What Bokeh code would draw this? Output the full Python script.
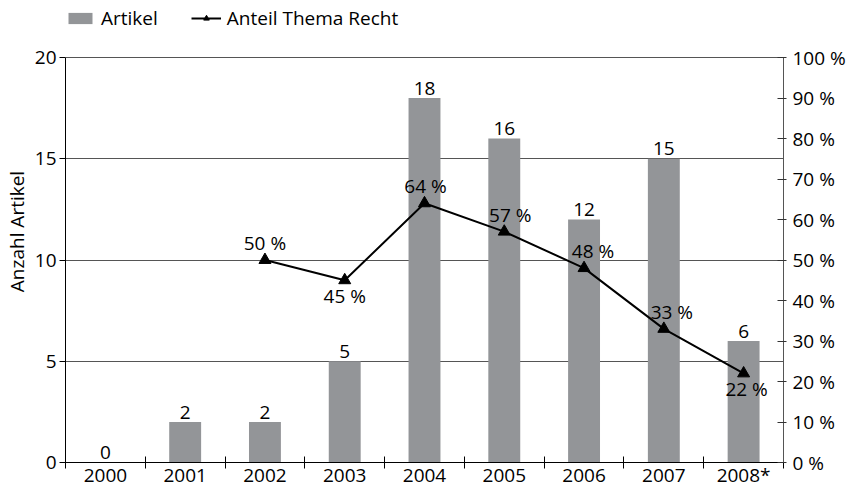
from bokeh.plotting import figure
from bokeh.models import (Range1d, LinearAxis, FixedTicker, PrintfTickFormatter,
                          Legend, LegendItem, ColumnDataSource)
from bokeh.core.properties import value
from bokeh.embed import file_html
from bokeh.resources import INLINE

# ---- data ----
years = ["2000", "2001", "2002", "2003", "2004", "2005", "2006", "2007", "2008*"]
articles = [0, 2, 2, 5, 18, 16, 12, 15, 6]
share_pct = [None, None, 50, 45, 64, 57, 48, 33, 22]
left_ticks = [0, 5, 10, 15, 20]
right_ticks = [0, 10, 20, 30, 40, 50, 60, 70, 80, 90, 100]

# label placement for the percentage labels (style only)
pct_side = [None, None, "above", "below", "above", "above", "above", "above", "below"]
pct_nudge = [0, 0, 0, 0, 1, 6, 9, 8, 3]

FONT = "Open Sans"
FS = "19px"

# layout: the frame reaches up to the top edge so that the legend can sit inside it
PLOT_H = 405          # pixel height of the 0..20 scale
TOP_PAD = 57          # room above the scale for the legend
FRAME_H = PLOT_H + TOP_PAD
left_max = left_ticks[-1]
right_max = right_ticks[-1]
left_top = left_max * FRAME_H / PLOT_H
right_top = right_max * FRAME_H / PLOT_H

n = len(years)
centers = [i + 0.5 for i in range(n)]
bounds = list(range(n + 1))

p = figure(frame_width=718, frame_height=FRAME_H,
           x_range=Range1d(0, n), y_range=Range1d(0, left_top),
           output_backend="svg", toolbar_location=None,
           min_border_left=65, min_border_right=69, min_border_top=0, min_border_bottom=0)
p.extra_y_ranges = {"pct": Range1d(0, right_top)}
p.outline_line_color = None
p.background_fill_color = "white"
p.border_fill_color = "white"

# bars
bar_src = ColumnDataSource(dict(x=centers, top=articles, lbl=[str(v) for v in articles]))
bars = p.vbar(x="x", top="top", width=0.4, source=bar_src, fill_color="#939598", line_color=None)
p.text(x="x", y="top", text="lbl", source=bar_src, text_align="center", text_baseline="middle",
       y_offset=-10, text_font=value(FONT), text_font_size=FS, text_color="black")

# line
sx, sy, st, yo, xo = [], [], [], [], []
for c, v, side, nd in zip(centers, share_pct, pct_side, pct_nudge):
    if v is None:
        continue
    sx.append(c); sy.append(v); st.append(f"{v} %")
    yo.append(-17 if side == "above" else 16)
    xo.append(nd)
line_y = [float("nan") if v is None else v for v in share_pct]
ln = p.line(centers, line_y, y_range_name="pct", line_color="black", line_width=2)
pts = p.scatter(centers, line_y, y_range_name="pct", marker="triangle", size=12,
                fill_color="black", line_color="black")
pct_src = ColumnDataSource(dict(x=sx, y=sy, t=st, yo=yo, xo=xo))
p.text(x="x", y="y", text="t", source=pct_src, y_range_name="pct", text_align="center",
       text_baseline="middle", x_offset="xo", y_offset="yo",
       text_font=value(FONT), text_font_size=FS, text_color="black")

# axes
p.yaxis.ticker = FixedTicker(ticks=left_ticks)
p.yaxis.bounds = (0, left_max)
p.yaxis.major_tick_in = 0
p.yaxis.major_tick_out = 6
p.yaxis.minor_tick_line_color = None
p.yaxis.major_label_standoff = 3
p.yaxis.axis_line_color = "black"
p.yaxis.major_tick_line_color = "black"
p.yaxis.axis_label = "Anzahl Artikel"
p.yaxis.axis_label_standoff = 2
p.yaxis.axis_label_text_font = FONT
p.yaxis.axis_label_text_font_size = FS
p.yaxis.axis_label_text_font_style = "normal"
p.yaxis.axis_label_text_color = "black"

p.xaxis.ticker = FixedTicker(ticks=centers, minor_ticks=bounds)
p.xaxis.major_label_overrides = {c: y for c, y in zip(centers, years)}
p.xaxis.major_tick_in = 0
p.xaxis.major_tick_out = 0
p.xaxis.minor_tick_in = 6
p.xaxis.minor_tick_out = 6
p.xaxis.minor_tick_line_color = "black"
p.xaxis.major_label_standoff = -7
p.xaxis.axis_line_color = "black"

ry = LinearAxis(y_range_name="pct", ticker=FixedTicker(ticks=right_ticks),
                formatter=PrintfTickFormatter(format="%d %%"), bounds=(0, right_max))
ry.major_tick_in = 6
ry.major_tick_out = 3
ry.minor_tick_line_color = None
ry.major_label_standoff = 6
ry.axis_line_color = "#555555"
ry.major_tick_line_color = "#333333"
p.add_layout(ry, "right")

for ax in [p.xaxis[0], p.yaxis[0], ry]:
    ax.major_label_text_font = FONT
    ax.major_label_text_font_size = FS
    ax.major_label_text_color = "black"

p.ygrid.ticker = FixedTicker(ticks=[5, 10, 15, 20])
p.ygrid.grid_line_color = "#555555"
p.ygrid.grid_line_width = 1
p.xgrid.visible = False

# legend (inside the frame, in the room above the scale)
legend = Legend(items=[LegendItem(label="Artikel", renderers=[bars]),
                       LegendItem(label="Anteil Thema Recht", renderers=[ln, pts])],
                orientation="horizontal", location=(0, FRAME_H - 31),
                border_line_color=None, background_fill_alpha=0,
                padding=0, margin=0, spacing=33, label_standoff=6,
                glyph_width=30, glyph_height=14,
                label_text_font=FONT, label_text_font_size=FS, label_text_color="black")
p.add_layout(legend)

open("out.html", "w").write(file_html(p, INLINE))
